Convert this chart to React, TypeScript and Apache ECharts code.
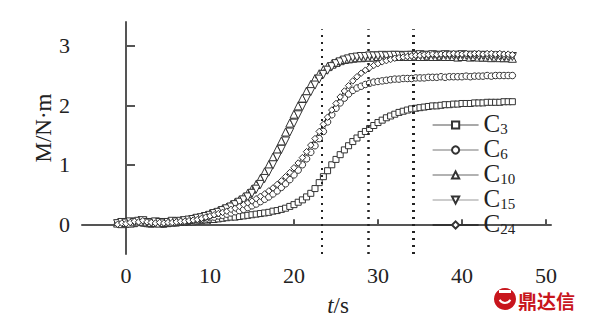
import React, { useEffect, useRef } from "react";
import * as echarts from "echarts";

// time axis (s)
const T: number[] = [
  -1, -0.5, 0, 0.5, 1, 1.5, 2, 2.5, 3, 3.5,
  4, 4.5, 5, 5.5, 6, 6.5, 7, 7.5, 8, 8.5,
  9, 9.5, 10, 10.5, 11, 11.5, 12, 12.5, 13, 13.5,
  14, 14.5, 15, 15.5, 16, 16.5, 17, 17.5, 18, 18.5,
  19, 19.5, 20, 20.5, 21, 21.5, 22, 22.5, 23, 23.5,
  24, 24.5, 25, 25.5, 26, 26.5, 27, 27.5, 28, 28.5,
  29, 29.5, 30, 30.5, 31, 31.5, 32, 32.5, 33, 33.5,
  34, 34.5, 35, 35.5, 36, 36.5, 37, 37.5, 38, 38.5,
  39, 39.5, 40, 40.5, 41, 41.5, 42, 42.5, 43, 43.5,
  44, 44.5, 45, 45.5, 46,
];

const C3: number[] = [
  0.02, 0.01, 0.0, 0.02, 0.01, 0.03, 0.02, 0.01, 0.0, 0.01,
  0.01, 0.0, 0.01, 0.02, 0.02, 0.03, 0.03, 0.04, 0.04, 0.05,
  0.06, 0.07, 0.08, 0.08, 0.09, 0.1, 0.11, 0.12, 0.12, 0.13,
  0.14, 0.15, 0.16, 0.17, 0.18, 0.19, 0.2, 0.22, 0.23, 0.25,
  0.27, 0.3, 0.33, 0.37, 0.41, 0.46, 0.52, 0.6, 0.7, 0.8,
  0.9, 1.0, 1.09, 1.17, 1.25, 1.32, 1.39, 1.45, 1.51, 1.56,
  1.61, 1.66, 1.71, 1.75, 1.79, 1.82, 1.85, 1.88, 1.9, 1.92,
  1.94, 1.95, 1.96, 1.97, 1.98, 1.99, 1.99, 2.0, 2.01, 2.01,
  2.02, 2.02, 2.03, 2.03, 2.03, 2.04, 2.04, 2.04, 2.05, 2.05,
  2.05, 2.05, 2.06, 2.06, 2.06,
];

const C6: number[] = [
  0.01, 0.0, 0.02, 0.01, 0.03, 0.04, 0.02, 0.01, 0.02, 0.01,
  0.02, 0.01, 0.02, 0.03, 0.03, 0.04, 0.04, 0.05, 0.06, 0.07,
  0.08, 0.09, 0.11, 0.12, 0.14, 0.15, 0.17, 0.19, 0.21, 0.23,
  0.25, 0.28, 0.31, 0.34, 0.38, 0.42, 0.46, 0.51, 0.56, 0.62,
  0.68, 0.75, 0.83, 0.91, 1.0, 1.1, 1.21, 1.32, 1.44, 1.56,
  1.72, 1.84, 1.95, 2.04, 2.12, 2.19, 2.25, 2.29, 2.32, 2.35,
  2.37, 2.39, 2.4, 2.41, 2.42, 2.43, 2.44, 2.44, 2.45, 2.45,
  2.45, 2.46, 2.46, 2.46, 2.47, 2.47, 2.47, 2.48, 2.47, 2.48,
  2.48, 2.48, 2.48, 2.49, 2.48, 2.49, 2.49, 2.49, 2.5, 2.49,
  2.5, 2.5, 2.5, 2.5, 2.5,
];

const C10: number[] = [
  0.02, 0.01, 0.03, 0.02, 0.04, 0.07, 0.05, 0.04, 0.03, 0.03,
  0.02, 0.03, 0.04, 0.04, 0.05, 0.06, 0.07, 0.08, 0.1, 0.11,
  0.13, 0.15, 0.18, 0.2, 0.23, 0.26, 0.29, 0.33, 0.37, 0.41,
  0.46, 0.52, 0.59, 0.67, 0.77, 0.88, 1.0, 1.13, 1.26, 1.4,
  1.55, 1.7, 1.85, 1.99, 2.12, 2.24, 2.35, 2.45, 2.53, 2.6,
  2.65, 2.69, 2.72, 2.75, 2.77, 2.78, 2.79, 2.8, 2.8, 2.81,
  2.81, 2.81, 2.82, 2.82, 2.81, 2.82, 2.82, 2.82, 2.83, 2.82,
  2.82, 2.83, 2.82, 2.82, 2.83, 2.82, 2.82, 2.83, 2.82, 2.82,
  2.82, 2.81, 2.82, 2.82, 2.81, 2.82, 2.81, 2.81, 2.81, 2.8,
  2.81, 2.8, 2.8, 2.8, 2.79,
];

const C15: number[] = [
  0.01, 0.03, 0.02, 0.04, 0.03, 0.05, 0.06, 0.03, 0.02, 0.04,
  0.03, 0.02, 0.03, 0.05, 0.04, 0.05, 0.06, 0.07, 0.08, 0.1,
  0.11, 0.13, 0.15, 0.18, 0.2, 0.23, 0.26, 0.29, 0.33, 0.37,
  0.41, 0.46, 0.52, 0.59, 0.67, 0.77, 0.88, 1.0, 1.13, 1.26,
  1.4, 1.55, 1.7, 1.84, 1.98, 2.11, 2.23, 2.34, 2.44, 2.52,
  2.59, 2.65, 2.7, 2.73, 2.76, 2.78, 2.8, 2.81, 2.82, 2.82,
  2.83, 2.83, 2.83, 2.84, 2.83, 2.84, 2.84, 2.84, 2.83, 2.84,
  2.84, 2.84, 2.85, 2.84, 2.84, 2.85, 2.84, 2.84, 2.85, 2.84,
  2.84, 2.84, 2.85, 2.84, 2.84, 2.84, 2.83, 2.84, 2.83, 2.83,
  2.83, 2.83, 2.82, 2.82, 2.82,
];

const C24: number[] = [
  0.0, 0.02, 0.01, 0.03, 0.05, 0.04, 0.06, 0.04, 0.03, 0.02,
  0.03, 0.02, 0.03, 0.03, 0.04, 0.05, 0.05, 0.06, 0.07, 0.08,
  0.1, 0.12, 0.14, 0.16, 0.18, 0.2, 0.22, 0.25, 0.27, 0.3,
  0.33, 0.36, 0.39, 0.43, 0.47, 0.51, 0.56, 0.61, 0.67, 0.73,
  0.8, 0.87, 0.95, 1.03, 1.12, 1.22, 1.33, 1.44, 1.56, 1.68,
  1.8, 1.92, 2.03, 2.14, 2.24, 2.33, 2.41, 2.48, 2.54, 2.59,
  2.63, 2.67, 2.7, 2.73, 2.75, 2.77, 2.79, 2.8, 2.81, 2.82,
  2.83, 2.84, 2.84, 2.85, 2.85, 2.86, 2.85, 2.86, 2.86, 2.86,
  2.87, 2.86, 2.86, 2.87, 2.86, 2.87, 2.87, 2.86, 2.87, 2.87,
  2.86, 2.87, 2.86, 2.86, 2.85,
];

const SERIES_NAMES = ["C3", "C6", "C10", "C15", "C24"];
const X_TICKS = [0, 10, 20, 30, 40, 50];
const Y_TICKS = [0, 1, 2, 3];
const DIVIDERS = [23.3, 28.85, 34.2];
const DIVIDER_TOP = 3.28;

const SERIF = "Times New Roman, Liberation Serif, DejaVu Serif, Noto Serif, serif";

export default function App() {
  const ref = useRef<HTMLDivElement>(null);
  useEffect(() => {
    if (!ref.current) return;
    const chart = echarts.init(ref.current, undefined, { renderer: "svg" });
    const pair = (vals: number[]) => vals.map((v, i) => [T[i], v]);
    const styles = [
      { data: C3, symbol: "rect", size: 6, rot: 0, line: "#555" },
      { data: C6, symbol: "circle", size: 6.5, rot: 0, line: "#777" },
      { data: C10, symbol: "triangle", size: 8, rot: 0, line: "#666" },
      { data: C15, symbol: "triangle", size: 8, rot: 180, line: "#999" },
      { data: C24, symbol: "diamond", size: 6.5, rot: 0, line: "#111" },
    ];
    const series: any[] = styles.map((s, k) => ({
      name: SERIES_NAMES[k],
      type: "line",
      data: pair(s.data),
      symbol: s.symbol,
      symbolSize: s.size,
      symbolRotate: s.rot,
      showSymbol: true,
      lineStyle: { color: s.line, width: 1 },
      itemStyle: { color: "#fff", borderColor: "#333", borderWidth: 1 },
      z: 3 + k,
    }));
    series[0].markLine = {
      silent: true,
      symbol: ["none", "none"],
      label: { show: false },
      animation: false,
      data: DIVIDERS.map((x, i) => [
        {
          coord: [x, -0.5],
          lineStyle: { color: "#222", width: [2, 2.5, 3][i], type: [2, 5] },
        },
        { coord: [x, DIVIDER_TOP] },
      ]),
    };

    chart.setOption({
      animation: false,
      backgroundColor: "#fff",
      grid: { left: 82, right: 44, top: 22, bottom: 67, outerBoundsMode: "none" },
      xAxis: {
        type: "value",
        min: -5.24,
        max: 50.6,
        splitLine: { show: false },
        axisLine: { lineStyle: { color: "#555", width: 2 } },
        axisTick: {
          inside: true,
          length: 5,
          lineStyle: { color: "#555", width: 2 },
          customValues: X_TICKS,
        },
        axisLabel: {
          customValues: X_TICKS,
          fontFamily: SERIF,
          fontSize: 22,
          color: "#222",
          margin: 10,
        },
      },
      yAxis: {
        type: "value",
        min: -0.5,
        max: 3.4,
        splitLine: { show: false },
        axisLine: { show: true, lineStyle: { color: "#555", width: 2 } },
        axisTick: {
          show: true,
          inside: true,
          length: 9,
          lineStyle: { color: "#555", width: 2 },
          customValues: Y_TICKS,
        },
        axisLabel: {
          customValues: Y_TICKS,
          fontFamily: SERIF,
          fontSize: 22,
          color: "#222",
          margin: 12,
        },
      },
      legend: {
        orient: "vertical",
        left: 427,
        top: 106,
        itemWidth: 46,
        itemHeight: 9,
        itemGap: 0,
        data: SERIES_NAMES,
        lineStyle: { width: 1.2 },
        formatter: (name: string) => `{c|C}{s|${name.slice(1)}}`,
        textStyle: {
          fontFamily: SERIF,
          rich: {
            c: { fontFamily: SERIF, fontSize: 25, color: "#222", lineHeight: 22, verticalAlign: "bottom" },
            s: {
              fontFamily: SERIF,
              fontSize: 15,
              color: "#222",
              lineHeight: 8,
              verticalAlign: "bottom",
            },
          },
        },
      },
      graphic: [
        {
          type: "text",
          x: 43,
          y: 128,
          rotation: Math.PI / 2,
          style: {
            text: "M/N·m",
            fontFamily: SERIF,
            fontSize: 23,
            fill: "#222",
            align: "center",
            verticalAlign: "middle",
          },
        },
        {
          type: "text",
          x: 338,
          y: 305,
          style: {
            text: "{i|t}{n|/s}",
            align: "center",
            verticalAlign: "middle",
            rich: {
              i: { fontFamily: SERIF, fontSize: 23, fontStyle: "italic", fill: "#222" },
              n: { fontFamily: SERIF, fontSize: 23, fill: "#222" },
            },
          },
        },
        {
          type: "circle",
          shape: { cx: 505, cy: 299, r: 11 },
          style: { fill: "#c8161d" },
        },
        {
          type: "arc",
          shape: { cx: 505, cy: 297, r: 6, startAngle: Math.PI * 0.15, endAngle: Math.PI * 0.85 },
          style: { stroke: "#fff", lineWidth: 2, fill: "none" },
        },
        {
          type: "rect",
          shape: { x: 499, y: 290, width: 12, height: 3 },
          style: { fill: "#fff" },
        },
        {
          type: "text",
          x: 518,
          y: 300,
          style: {
            text: "鼎达信",
            fontFamily: "Noto Sans CJK SC",
            fontWeight: "bold",
            fontSize: 19,
            fill: "#c8161d",
            align: "left",
            verticalAlign: "middle",
          },
        },
      ],
      series,
    });
    return () => chart.dispose();
  }, []);
  return <div ref={ref} style={{ width: 595, height: 321, position: "absolute", left: 0, top: 0 }} />;
}
